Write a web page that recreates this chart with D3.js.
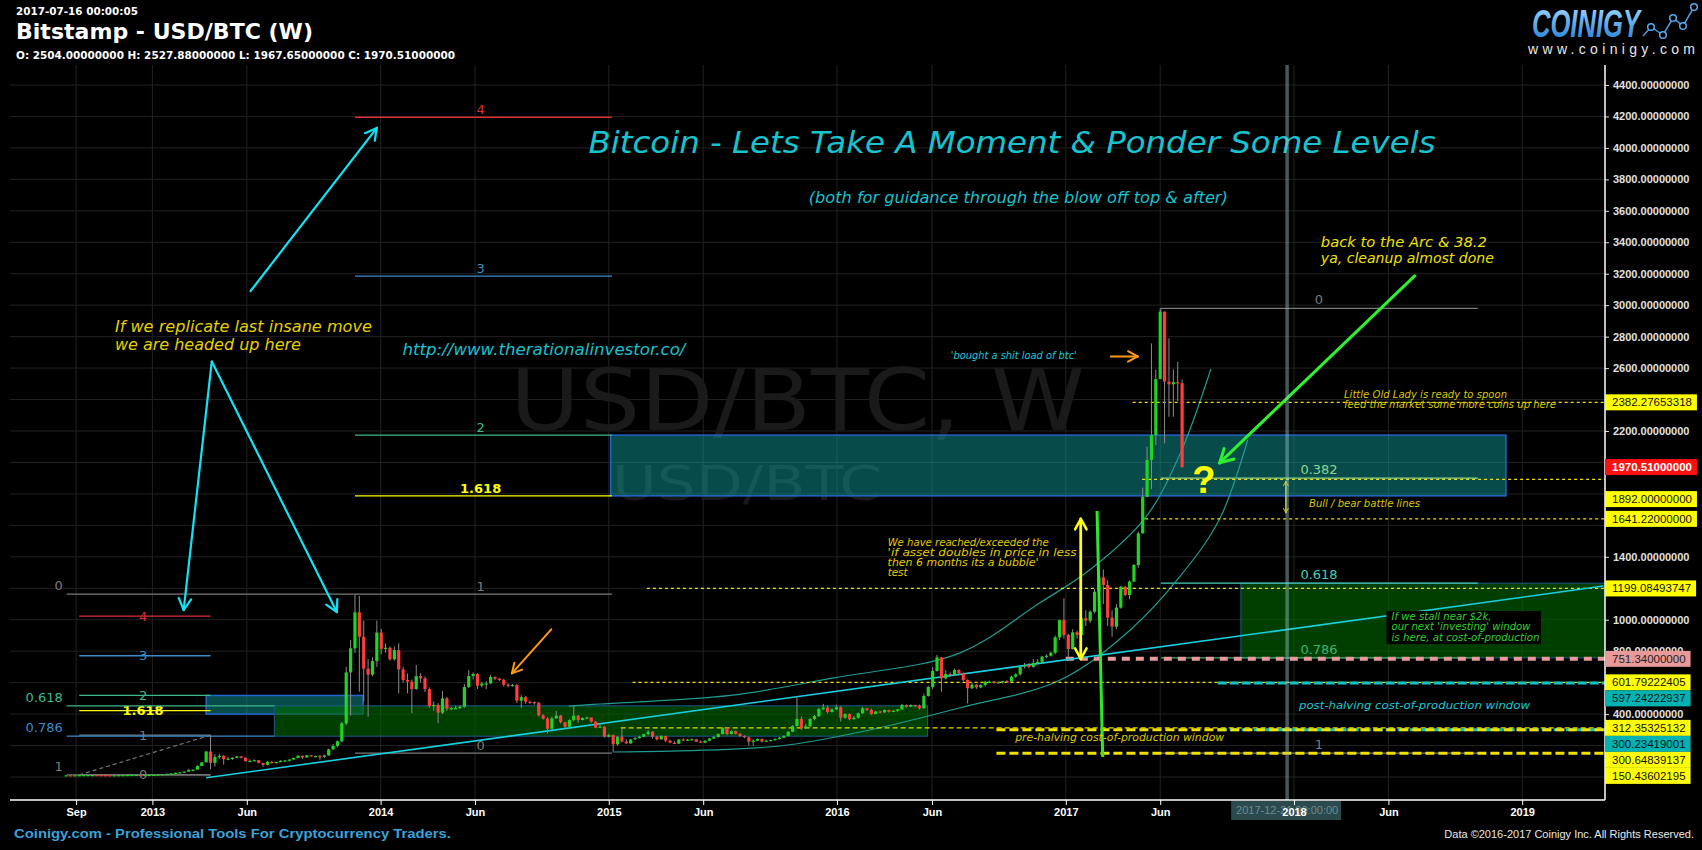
<!DOCTYPE html>
<html><head><meta charset="utf-8">
<script src="https://cdn.jsdelivr.net/npm/d3@7"></script>
<style>html,body{margin:0;padding:0;background:#000;overflow:hidden}</style>
</head><body>
<svg id="c" width="1702" height="850"></svg>
<script>
// ---------------- DATA ----------------
const candleStart = "2012-08-20"; // Monday of first weekly candle
const firstOpen = 10.0;
const closes = [10.9,10.6,11.0,11.7,12.3,12.4,12.4,11.9,11.8,10.9,10.8,10.9,11.5,12.2,12.6,13.4,13.5,13.4,13.4,13.5,
14.2,15.8,17.8,20.6,23.0,27.0,30.0,34.4,46.0,47.0,70.0,93.0,
162,90,127,134,113,117,122,131,122,100,103,107,89,77,97,88,96,103,105,111,121,135,124,138,133,133,128,
137,176,197,227,341,665,818,1047,892,689,651,737,918,814,822,748,807,684,617,606,559,642,627,559,451,458,409,500,434,438,438,447,572,642,655,581,595,595,636,625,617,
587,581,585,485,508,479,477,472,392,371,307,373,390,348,320,362,390,362,375,378,352,314,320,256,267,208,256,
225,214,239,247,256,273,288,256,239,261,231,218,212,239,235,237,240,225,218,231,244,254,273,313,273,292,275,261,252,225,231,242,225,231,235,242,250,261,288,324,369,309,
322,369,388,432,441,413,430,443,377,400,367,377,405,437,426,400,417,411,426,415,421,430,458,447,458,452,437,515,572,674,761,627,655,650,680,659,
617,564,587,570,585,606,606,598,604,610,606,638,653,701,712,700,725,732,765,771,790,888,998,903,814,920,903,1009,994,1051,1178,1269,1221,1013,956,1077,1210,1157,1242,1348,1549,1782,2016,2174,2530,2959,2514,2497,2510,2504,1970.51];
const highs = [11.2,11.0,11.1,11.9,12.6,12.6,12.9,12.3,12.0,11.9,11.0,11.0,11.8,12.4,12.7,13.6,13.7,13.6,13.5,13.7,
14.4,16.2,18.5,21.0,24.0,27.5,31.0,35.0,48.0,48.5,74.0,95.0,
166,266,145,147,139,126,126,134,134,124,112,112,107,91,101,100,97,106,108,112,123,138,136,140,138,135,140,
142,180,210,232,350,700,871,1168,1151,994,750,761,994,941,850,830,830,850,700,659,620,712,660,640,570,480,470,547,510,445,452,455,590,680,665,660,605,610,650,640,630,
625,595,592,590,520,515,485,480,478,400,380,385,420,395,352,368,451,395,380,384,380,356,336,322,275,272,260,
316,240,243,255,262,275,298,291,262,265,263,238,228,241,246,242,245,243,232,233,248,262,278,317,316,296,296,280,265,258,240,245,245,236,238,245,254,265,290,330,506,385,
338,375,395,440,465,455,437,460,450,405,405,388,410,445,440,435,420,422,430,428,425,432,465,462,462,460,460,530,580,700,776,760,680,665,690,685,
665,620,598,590,590,612,612,610,608,612,615,645,660,705,725,725,750,750,770,780,795,900,1000,1136,910,940,930,1030,1060,1060,1195,1290,1320,1250,1060,1100,1215,1215,1250,1355,1560,1840,2100,2757,2590,2980,2960,2789,2592,2640,2527.88];
const lows = [9.6,10.4,10.6,10.9,11.7,12.1,12.2,11.6,11.5,10.6,10.5,10.7,10.9,11.4,12.1,12.5,13.3,13.2,13.2,13.2,
13.4,14.1,15.8,17.8,20.2,22.9,26.5,29.5,34.0,36.5,46.5,70.0,
93,50,66,115,79,107,108,119,118,99,95,100,87,65,75,86,86,93,99,98,110,119,115,122,130,125,110,
121,135,170,190,220,330,390,790,542,480,383,640,700,780,790,740,740,532,600,532,405,555,600,540,440,420,341,400,420,425,430,432,440,565,620,560,570,560,590,615,610,
575,570,575,470,440,465,465,460,385,365,277,300,370,340,310,318,355,345,360,368,345,310,312,250,252,161,200,
220,210,210,235,245,255,265,245,232,236,222,215,210,210,230,230,232,222,215,217,228,242,250,270,265,271,270,255,248,199,198,228,220,225,228,230,238,247,258,285,320,300,
308,316,360,380,425,405,410,425,352,370,360,365,370,400,420,395,400,405,408,410,412,412,428,440,445,445,430,435,510,560,670,542,620,640,645,650,
610,468,560,560,565,575,600,595,592,595,600,605,630,644,690,690,695,720,725,755,765,780,870,880,740,810,880,900,960,980,1040,1170,1100,960,892,940,1070,1150,1130,1240,1330,1560,1780,1830,2110,2530,2121,2291,2291,2390,1967.65];

const xTickDates = ["2012-09-01","2013-01-01","2013-06-01","2014-01-01","2014-06-01","2015-01-01","2015-06-01","2016-01-01","2016-06-01","2017-01-01","2017-06-01","2018-01-01","2018-06-01","2019-01-01"];
const xTickLabels = ["Sep","2013","Jun","2014","Jun","2015","Jun","2016","Jun","2017","Jun","2018","Jun","2019"];
const yTickValues = d3.range(0, 4401, 200);

// price tags on the right axis (in stacking order)
const tagValues = [2382.27653318,1970.51,1892,1641.22,1199.08493747,751.34,601.79222405,597.24222937,312.35325132,300.23419001,300.64839137,150.43602195];
const tagKinds  = ["yel","red","yel","yel","yel","pink","yel","teal","yel","teal","yel","yel"];

// horizontal level lines: value, start date, kind
const levelValues = [2382.27653318,1892,1641.22,1199.08493747,601.79222405,312.35325132,751.34,597.24222937,300.23419001,300.64839137,150.43602195];
const levelStarts = ["2017-04-18","2017-05-03","2017-05-08","2015-03-03","2015-02-08","2015-01-20","2017-01-01","2017-09-01","2017-09-01","2016-09-12","2016-09-12"];
const levelKinds  = ["dot","dot","dot","dot","dot","dash","pink","teal","teal","thick","thick"];

// fibonacci tools
const fibExtLevels = [0,1,1.618,2,3,4];
const fibBigBase = [152.4,1163];      const fibBigSpan = ["2013-11-21","2015-01-06"];  const fibBigLabelDate = "2014-06-10";
const fibSmallBase = [13.5,266];      const fibSmallSpan = ["2012-09-06","2013-04-04"]; const fibSmallLabelDate = "2012-12-17";
const fibRetLeftLevels = [0,0.618,0.786,1];
const fibRetLeftBase = [1163,13.5];   const fibRetLeftStart = "2012-08-17";
const fibRetLeftEnds = ["2013-11-20","2013-07-15","2013-07-15","2013-04-04"];
const fibRetRightLevels = [0,0.382,0.618,0.786,1];
const fibRetRightBase = [2980,152.4]; const fibRetRightSpan = ["2017-06-02","2018-10-22"]; const fibRetRightLabelDate = "2018-02-10";

// zones
const zoneFrom = ["2015-01-04","2013-03-28","2013-07-15","2017-10-08"];
const zoneTo   = ["2018-12-06","2013-12-04","2016-05-25","2019-06-30"];
const zoneTop  = [2173.6,518.5,452.6,1232.5];
const zoneBot  = [1787.6,400,259.5,757.5];
const zoneKind = ["teal","teal","green","green"];

// trend line & arcs
const trendDates = ["2013-03-28","2019-05-11"]; const trendValues = [-5,1214];
const upperArcDates = ["2014-10-29","2014-12-18","2015-07-18","2015-12-25","2016-07-15","2016-11-20","2017-02-08","2017-05-09","2017-07-02","2017-08-21"];
const upperArcValues = [451,464,521,629,788,1106,1316,1653,2047,2594];
const lowerArcDates = ["2015-01-07","2015-10-01","2016-02-22","2016-07-15","2016-12-23","2017-04-14","2017-07-02","2017-09-04","2017-10-19"];
const lowerArcValues = [159,197,299,439,617,935,1272,1640,2143];

// arrows: [fromDate, fromValue, toDate, toValue]
const arrowCyan = [["2013-06-07",3090,"2013-12-26",4127],["2013-04-06",2642,"2013-02-20",1062],["2013-04-06",2642,"2013-10-23",1049]];
const arrowOrange = [["2014-10-01",939,"2014-07-30",659],["2017-03-14",2674,"2017-04-26",2674]];
const arrowGreen = [["2018-07-13",3186,"2017-09-04",1997]];
const doubleArrows = [["2017-01-25",751.34,1641.22],["2017-12-19",1680,1880]];
const greenVertical = ["2017-02-20",1691,"2017-03-01",127];
const cursorDate = "2017-12-21";
const cursorLabel = "2017-12-21 00:00:00";

// text annotations: date, value, text
const noteDates = ["2016-10-07","2016-10-17","2014-02-05","2012-11-02","2012-11-02","2016-07-01","2018-03-22","2018-03-22","2018-02-13","2018-02-13","2018-01-25","2017-08-10",
 "2016-03-22","2016-03-22","2016-03-22","2016-03-22","2016-10-12","2018-01-09","2018-06-06","2018-06-06","2018-06-06"];
const noteValues = [3968,3650,2683,2830,2718,2658,2410,2346,3367,3270,1717,1806,1469,1405,1341,1278,229,432,998,935,865];
const noteTexts = ["Bitcoin - Lets Take A Moment & Ponder Some Levels","(both for guidance through the blow off top & after)","http://www.therationalinvestor.co/",
 "If we replicate last insane move","we are headed up here","'bought a shit load of btc'","Little Old Lady is ready to spoon","feed the market some more coins up here",
 "back to the Arc & 38.2","ya, cleanup almost done","Bull / bear battle lines","?",
 "We have reached/exceeded the","'if asset doubles in price in less","then 6 months its a bubble'","test",
 "pre-halving cost-of-production window","post-halving cost-of-production window",
 "If we stall near $2k,","our next 'investing' window","is here, at cost-of-production"];
const stallBox = ["2018-05-29",1055,"2019-01-31",845];

// ---------------- STYLE ----------------
const noteStyle = [
 {s:30,c:"#17c3cf",w:847,a:"middle"},{s:16,c:"#17c3cf",w:419,a:"middle"},{s:16,c:"#17c3cf",w:283},
 {s:16,c:"#e5d000",w:257},{s:16,c:"#e5d000",w:186},{s:10.5,c:"#19c8d8",w:126},{s:10.5,c:"#d8c800",w:163},{s:10.5,c:"#d8c800",w:212},
 {s:14,c:"#f0e000",w:166},{s:14,c:"#f0e000",w:173},{s:11,c:"#d8c800",w:111},{s:38,c:"#ffff00",a:"middle",b:true,f:"Liberation Sans"},
 {s:10.5,c:"#e0cc00",w:161},{s:10.5,c:"#e0cc00",w:189},{s:10.5,c:"#e0cc00",w:151},{s:10.5,c:"#e0cc00",w:20},
 {s:11,c:"#d8c800",w:209},{s:11,c:"#19c8d8",w:231},
 {s:10,c:"#30d030",w:100},{s:10,c:"#30d030",w:139},{s:10,c:"#30d030",w:148}];
const tagColors = {yel:["#ffff00","#111"],red:["#ff1010","#fff"],pink:["#e89a9a","#222"],teal:["#00b2b2","#111"]};
const fibExtColors = ["#7a7a7a","#7a7a7a","#ffff00","#3cb88a","#3a8ccc","#d83030"];
const fibRetLeftColors = ["#7a7a7a","#3cb88a","#3a8ccc","#7a7a7a"];
const fibRetRightColors = ["#7a7a7a","#8fd68f","#45d0b8","#3cb371","#7a7a7a"];
const TAG_H = 16, PRICE_TAG_CLEAR = 32;

// ---------------- CHART ----------------
const svg = d3.select("#c");
const W = 1702, H = 850;
const PL = 10, PR = 1605, PT = 65, PB = 800;
const D = s => new Date(s);
const x = d3.scaleUtc().domain([D("2014-01-01"), D("2019-01-01")]).range([380.6, 1522.2]);
const y = d3.scaleLinear().domain([0, 4400]).range([777, 85]);
const SANS = "'DejaVu Sans', Verdana, sans-serif";
const ARIAL = "'Liberation Sans', Arial, sans-serif";

svg.append("rect").attr("width", W).attr("height", H).attr("fill", "#000");
const defs = svg.append("defs");
defs.append("clipPath").attr("id", "plotclip").append("rect").attr("x", PL).attr("y", PT).attr("width", PR - PL).attr("height", PB - PT);
const g = svg.append("g").attr("clip-path", "url(#plotclip)");

// grid
g.selectAll(".hg").data(yTickValues).join("line").attr("x1", PL).attr("x2", PR)
  .attr("y1", d => y(d)).attr("y2", d => y(d)).attr("stroke", "#222").attr("stroke-width", 1);
g.selectAll(".vg").data(xTickDates).join("line").attr("y1", PT).attr("y2", PB)
  .attr("x1", d => x(D(d))).attr("x2", d => x(D(d))).attr("stroke", "#222").attr("stroke-width", 1);

// watermark
g.append("text").attr("x", 510).attr("y", 430).attr("font-family", SANS).attr("font-size", 86)
  .attr("fill", "#1a1a1a").attr("textLength", 575).attr("lengthAdjust", "spacingAndGlyphs").text("USD/BTC, W");
g.append("text").attr("x", 612).attr("y", 500).attr("font-family", SANS).attr("font-size", 48)
  .attr("fill", "#1a1a1a").attr("textLength", 270).attr("lengthAdjust", "spacingAndGlyphs").text("USD/BTC");

// zones
zoneFrom.forEach((f, i) => {
  const teal = zoneKind[i] === "teal";
  g.append("rect").attr("x", x(D(f))).attr("y", y(zoneTop[i]))
    .attr("width", x(D(zoneTo[i])) - x(D(f))).attr("height", y(zoneBot[i]) - y(zoneTop[i]))
    .attr("fill", teal ? "rgba(16,150,150,0.5)" : "rgba(0,105,0,0.6)")
    .attr("stroke", teal ? "#2565c8" : "#1d5a8c").attr("stroke-width", teal ? 1.5 : 1);
});

// fib tools
function hline(d1, d2, v, col, w, dash) {
  const l = g.append("line").attr("x1", x(D(d1))).attr("x2", x(D(d2))).attr("y1", y(v)).attr("y2", y(v))
    .attr("stroke", col).attr("stroke-width", w || 1.3);
  if (dash) l.attr("stroke-dasharray", dash);
  return l;
}
function label(px, py, t, col, size, anchor, bold, base) {
  return g.append("text").attr("x", px).attr("y", py).attr("fill", col).attr("font-family", SANS)
    .attr("font-size", size).attr("text-anchor", anchor || "middle").attr("font-weight", bold ? "bold" : "normal")
    .attr("dominant-baseline", base || "auto").text(t);
}
// big extension
fibExtLevels.forEach((r, i) => {
  const v = fibBigBase[0] + r * (fibBigBase[1] - fibBigBase[0]);
  hline(fibBigSpan[0], fibBigSpan[1], v, fibExtColors[i], 1.3);
  label(x(D(fibBigLabelDate)), y(v) - 3, r === 1.618 ? "1.618" : String(r), fibExtColors[i], 13, "middle", r === 1.618);
});
// small extension
g.append("line").attr("x1", x(D(fibSmallSpan[0]))).attr("y1", y(fibSmallBase[0])).attr("x2", x(D(fibSmallSpan[1]))).attr("y2", y(fibSmallBase[1]))
  .attr("stroke", "#777").attr("stroke-width", 1.2).attr("stroke-dasharray", "4,3");
fibExtLevels.forEach((r, i) => {
  const v = fibSmallBase[0] + r * (fibSmallBase[1] - fibSmallBase[0]);
  hline(fibSmallSpan[0], fibSmallSpan[1], v, fibExtColors[i], 1.3);
  label(x(D(fibSmallLabelDate)), y(v), r === 1.618 ? "1.618" : String(r), fibExtColors[i], 13, "middle", r === 1.618, "central");
});
// left retracement
fibRetLeftLevels.forEach((r, i) => {
  const v = fibRetLeftBase[0] + r * (fibRetLeftBase[1] - fibRetLeftBase[0]);
  hline(fibRetLeftStart, fibRetLeftEnds[i], v, fibRetLeftColors[i], 1.3);
  label(x(D(fibRetLeftStart)) - 4, y(v) - 4, String(r), fibRetLeftColors[i], 13, "end");
});
// right retracement
fibRetRightLevels.forEach((r, i) => {
  const v = fibRetRightBase[0] + r * (fibRetRightBase[1] - fibRetRightBase[0]);
  hline(fibRetRightSpan[0], fibRetRightSpan[1], v, fibRetRightColors[i], 1.3);
  label(x(D(fibRetRightLabelDate)), y(v) - 4, String(r), fibRetRightColors[i], 13, "middle");
});
g.append("line").attr("x1", x(D(fibRetRightSpan[0]))).attr("x2", x(D(fibRetRightSpan[0])))
  .attr("y1", y(fibRetRightBase[0])).attr("y2", y(fibRetRightBase[0]) + 5).attr("stroke", "#7a7a7a");

// arcs
const arcLine = d3.line().curve(d3.curveCatmullRom.alpha(0.5));
g.append("path").attr("d", arcLine(upperArcDates.map((d, i) => [x(D(d)), y(upperArcValues[i])])))
  .attr("fill", "none").attr("stroke", "#1f9c90").attr("stroke-width", 1.2);
g.append("path").attr("d", arcLine(lowerArcDates.map((d, i) => [x(D(d)), y(lowerArcValues[i])])))
  .attr("fill", "none").attr("stroke", "#1f9c90").attr("stroke-width", 1.2);

// level lines
levelValues.forEach((v, i) => {
  const k = levelKinds[i];
  const st = {dot:["#f0e000",1.2,"3,3"],dash:["#e8d800",1.2,"5,3"],pink:["#e89a9a",4,"8,6"],teal:["#18c0c0",3,"9,3"],thick:["#f0e000",3,"9,4"]}[k];
  g.append("line").attr("x1", x(D(levelStarts[i]))).attr("x2", PR).attr("y1", y(v)).attr("y2", y(v))
    .attr("stroke", st[0]).attr("stroke-width", st[1]).attr("stroke-dasharray", st[2]);
});

// trend line
g.append("line").attr("x1", x(D(trendDates[0]))).attr("y1", y(trendValues[0]))
  .attr("x2", x(D(trendDates[1]))).attr("y2", y(trendValues[1])).attr("stroke", "#19d0e0").attr("stroke-width", 1.6);

// candles
const cand = closes.map((c, i) => {
  const dt = d3.utcDay.offset(D(candleStart), 7 * i);
  const o = i === 0 ? firstOpen : closes[i - 1];
  return {dt, o, c, h: Math.max(highs[i], o, c), l: Math.min(lows[i], o, c)};
});
const cx = d => x(d3.utcDay.offset(d.dt, -4));
g.selectAll(".wick").data(cand).join("line").attr("x1", cx).attr("x2", cx)
  .attr("y1", d => y(d.h)).attr("y2", d => y(d.l)).attr("stroke", "#8c8c8c").attr("stroke-width", 1);
g.selectAll(".body").data(cand).join("rect").attr("x", d => cx(d) - 1.6).attr("width", 3.2)
  .attr("y", d => y(Math.max(d.o, d.c))).attr("height", d => Math.max(1.2, Math.abs(y(d.o) - y(d.c))))
  .attr("fill", d => d.c >= d.o ? "#22d422" : "#ff3d3d");

// stall box
g.append("rect").attr("x", x(D(stallBox[0]))).attr("y", y(stallBox[1]))
  .attr("width", x(D(stallBox[2])) - x(D(stallBox[0]))).attr("height", y(stallBox[3]) - y(stallBox[1])).attr("fill", "#000");

// arrows
function arrow(x1, y1, x2, y2, col, w, head) {
  g.append("line").attr("x1", x1).attr("y1", y1).attr("x2", x2).attr("y2", y2).attr("stroke", col).attr("stroke-width", w).attr("stroke-linecap", "round");
  const ang = Math.atan2(y2 - y1, x2 - x1);
  [0.5, -0.5].forEach(a => {
    g.append("line").attr("x1", x2).attr("y1", y2)
      .attr("x2", x2 - head * Math.cos(ang + a)).attr("y2", y2 - head * Math.sin(ang + a))
      .attr("stroke", col).attr("stroke-width", w).attr("stroke-linecap", "round");
  });
}
arrowCyan.forEach(a => arrow(x(D(a[0])), y(a[1]), x(D(a[2])), y(a[3]), "#10e4f4", 2.2, 13));
arrowOrange.forEach(a => arrow(x(D(a[0])), y(a[1]), x(D(a[2])), y(a[3]), "#ff9a10", 2, 11));
arrowGreen.forEach(a => arrow(x(D(a[0])), y(a[1]), x(D(a[2])), y(a[3]), "#2ef02e", 3, 15));
doubleArrows.forEach((a, i) => {
  const px = x(D(a[0])), w = i === 0 ? 2.5 : 1, hd = i === 0 ? 12 : 5;
  arrow(px, y(a[2]), px, y(a[1]), i === 0 ? "#ffff10" : "#d8c800", w, hd);
  arrow(px, y(a[1]), px, y(a[2]), i === 0 ? "#ffff10" : "#d8c800", w, hd);
});
g.append("line").attr("x1", x(D(greenVertical[0]))).attr("y1", y(greenVertical[1]))
  .attr("x2", x(D(greenVertical[2]))).attr("y2", y(greenVertical[3])).attr("stroke", "#2ee82e").attr("stroke-width", 3);

// notes
noteTexts.forEach((t, i) => {
  const st = noteStyle[i];
  const el = g.append("text").attr("x", x(D(noteDates[i]))).attr("y", y(noteValues[i]))
    .attr("font-family", st.f ? st.f : SANS).attr("font-size", st.s).attr("fill", st.c)
    .attr("font-style", st.b ? "normal" : "italic").attr("font-weight", st.b ? "bold" : "normal")
    .attr("text-anchor", st.a || "start").text(t);
  if (st.w) el.attr("textLength", st.w).attr("lengthAdjust", "spacingAndGlyphs");
});

// cursor
g.append("line").attr("x1", x(D(cursorDate))).attr("x2", x(D(cursorDate))).attr("y1", PT).attr("y2", PB)
  .attr("stroke", "rgba(150,195,205,0.45)").attr("stroke-width", 3.5);

// ---------------- AXES ----------------
// price tag layout (push-down; the live price tag needs extra clearance)
const tagY = [];
let prev = -1e9, prevKind = null;
tagValues.forEach((v, i) => {
  const gap = prevKind === "red" ? PRICE_TAG_CLEAR : TAG_H;
  const ty = Math.max(y(v), prev + gap);
  tagY.push(ty); prev = ty; prevKind = tagKinds[i];
});

// y axis (tick labels fully hidden behind a tag are skipped)
const visibleTicks = yTickValues.filter(v => !tagY.some(t => Math.abs(t - y(v)) < 7));
const ya = svg.append("g").attr("transform", `translate(${PR},0)`)
  .call(d3.axisRight(y).tickValues(yTickValues).tickFormat(d => visibleTicks.includes(d) ? d3.format(".8f")(d) : "").tickSize(4).tickPadding(4));
ya.select(".domain").remove();
ya.selectAll("line").attr("stroke", "#ddd");
ya.selectAll("text").attr("fill", "#e0e0e0").attr("font-family", ARIAL).attr("font-size", 11).attr("font-weight", "bold");
svg.append("line").attr("x1", PR).attr("x2", PR).attr("y1", PT).attr("y2", PB).attr("stroke", "#fff").attr("stroke-width", 1.5);

tagValues.forEach((v, i) => {
  const ty = tagY[i];
  const col = tagColors[tagKinds[i]];
  const str = d3.format(".8f")(v);
  const t = svg.append("text").attr("x", PR + 7).attr("y", ty).attr("dominant-baseline", "central")
    .attr("font-family", ARIAL).attr("font-size", 11.5).attr("fill", col[1]).attr("font-weight", tagKinds[i] === "red" ? "bold" : "normal").text(str);
  const bb = t.node().getBBox();
  svg.insert("rect", () => t.node()).attr("x", PR).attr("y", ty - TAG_H / 2).attr("width", bb.width + 12).attr("height", TAG_H).attr("fill", col[0]);
});

// x axis
const cxp = x(D(cursorDate));
svg.append("rect").attr("x", cxp - 56).attr("y", PB + 1).attr("width", 110).attr("height", 19).attr("fill", "#2a4a4e");
svg.append("text").attr("x", cxp).attr("y", PB + 14).attr("text-anchor", "middle").attr("font-family", ARIAL)
  .attr("font-size", 11).attr("fill", "#6f8a8c").text(cursorLabel);
const xa = svg.append("g").attr("transform", `translate(0,${PB})`)
  .call(d3.axisBottom(x).tickValues(xTickDates.map(D)).tickFormat((d, i) => xTickLabels[i]).tickSize(5).tickPadding(3));
xa.select(".domain").remove();
xa.selectAll("line").attr("stroke", "#fff");
xa.selectAll("text").attr("fill", "#fff").attr("font-family", ARIAL).attr("font-size", 11).attr("font-weight", "bold");
svg.append("line").attr("x1", PL).attr("x2", PR).attr("y1", PB).attr("y2", PB).attr("stroke", "#fff").attr("stroke-width", 1.5);

// ---------------- HEADER / FOOTER ----------------
svg.append("text").attr("x", 16).attr("y", 15).attr("font-family", SANS).attr("font-weight", "bold").attr("font-size", 11)
  .attr("fill", "#fff").attr("textLength", 122).attr("lengthAdjust", "spacingAndGlyphs").text("2017-07-16 00:00:05");
svg.append("text").attr("x", 16).attr("y", 39).attr("font-family", SANS).attr("font-weight", "bold").attr("font-size", 22)
  .attr("fill", "#fff").attr("textLength", 297).attr("lengthAdjust", "spacingAndGlyphs").text("Bitstamp - USD/BTC (W)");
svg.append("text").attr("x", 16).attr("y", 59).attr("font-family", SANS).attr("font-weight", "bold").attr("font-size", 10.5)
  .attr("fill", "#fff").attr("textLength", 439).attr("lengthAdjust", "spacingAndGlyphs").text("O: 2504.00000000 H: 2527.88000000 L: 1967.65000000 C: 1970.51000000");

const grad = defs.append("linearGradient").attr("id", "lg").attr("x1", 0).attr("y1", 0).attr("x2", 0).attr("y2", 1);
grad.append("stop").attr("offset", "0%").attr("stop-color", "#a8dcff");
grad.append("stop").attr("offset", "100%").attr("stop-color", "#1a78d0");
svg.append("text").attr("x", 1532).attr("y", 37).attr("font-family", ARIAL).attr("font-weight", "bold").attr("font-style", "italic")
  .attr("font-size", 38).attr("fill", "url(#lg)").attr("textLength", 108).attr("lengthAdjust", "spacingAndGlyphs").text("COINIGY");
const logoPts = [[1643,36],[1651,27],[1663,35],[1673,18],[1683,26],[1694,7]];
svg.append("path").attr("d", d3.line()(logoPts)).attr("fill", "none").attr("stroke", "#4a9ae0").attr("stroke-width", 1.5);
svg.selectAll(".lp").data(logoPts.slice(1)).join("circle").attr("cx", d => d[0]).attr("cy", d => d[1]).attr("r", 3.3)
  .attr("fill", "#000").attr("stroke", "#5aa8ee").attr("stroke-width", 1.5);
svg.append("text").attr("x", 1528).attr("y", 54).attr("font-family", ARIAL).attr("font-size", 14)
  .attr("fill", "#e8e8e8").attr("textLength", 167).attr("lengthAdjust", "spacing").text("www.coinigy.com");

svg.append("text").attr("x", 14).attr("y", 838).attr("font-family", ARIAL).attr("font-weight", "bold").attr("font-size", 13)
  .attr("fill", "#3aa2dc").attr("textLength", 437).attr("lengthAdjust", "spacingAndGlyphs").text("Coinigy.com - Professional Tools For Cryptocurrency Traders.");
svg.append("text").attr("x", 1694).attr("y", 838).attr("text-anchor", "end").attr("font-family", ARIAL).attr("font-size", 11)
  .attr("fill", "#e8e8e8").text("Data ©2016-2017 Coinigy Inc. All Rights Reserved.");
</script>
</body></html>
